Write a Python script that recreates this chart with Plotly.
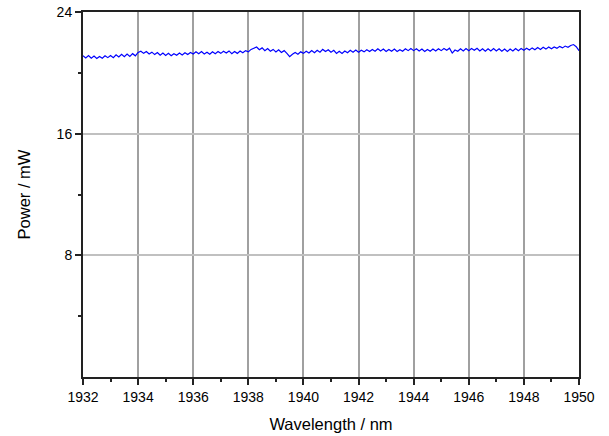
import plotly.graph_objects as go

# Wavelength grid (nm), 0.1 nm sampling
wavelength = [round(1932 + 0.1 * i, 1) for i in range(181)]

# Power (mW)
power = [
    21.12, 20.98, 21.14, 20.96, 21.10, 20.94, 21.08, 20.96, 21.12, 21.00,
    21.14, 21.00, 21.18, 21.04, 21.22, 21.06, 21.24, 21.08, 21.26, 21.12,
    21.34, 21.42, 21.28, 21.40, 21.24, 21.36, 21.20, 21.34, 21.16, 21.30,
    21.14, 21.28, 21.12, 21.26, 21.16, 21.30, 21.18, 21.32, 21.20, 21.34,
    21.24, 21.38, 21.26, 21.40, 21.24, 21.36, 21.22, 21.38, 21.26, 21.40,
    21.28, 21.42, 21.30, 21.44, 21.26, 21.40, 21.28, 21.44, 21.32, 21.46,
    21.38, 21.54, 21.62, 21.70, 21.52, 21.64, 21.46, 21.60, 21.42, 21.54,
    21.38, 21.52, 21.34, 21.46, 21.28, 21.06, 21.22, 21.34, 21.22, 21.38,
    21.28, 21.42, 21.30, 21.46, 21.32, 21.48, 21.36, 21.54, 21.40, 21.52,
    21.36, 21.48, 21.28, 21.42, 21.28, 21.44, 21.32, 21.48, 21.36, 21.50,
    21.36, 21.48, 21.38, 21.52, 21.40, 21.54, 21.42, 21.58, 21.44, 21.56,
    21.40, 21.54, 21.42, 21.56, 21.40, 21.52, 21.42, 21.58, 21.46, 21.60,
    21.46, 21.58, 21.44, 21.56, 21.40, 21.54, 21.42, 21.56, 21.44, 21.58,
    21.46, 21.60, 21.48, 21.62, 21.30, 21.50, 21.42, 21.58, 21.44, 21.60,
    21.46, 21.60, 21.48, 21.62, 21.44, 21.58, 21.42, 21.58, 21.44, 21.60,
    21.44, 21.58, 21.42, 21.56, 21.40, 21.56, 21.44, 21.60, 21.46, 21.60,
    21.48, 21.62, 21.50, 21.64, 21.52, 21.66, 21.54, 21.68, 21.56, 21.70,
    21.58, 21.70, 21.62, 21.74, 21.64, 21.76, 21.68, 21.80, 21.86, 21.72,
    21.46,
]

x_ticks = [1932, 1934, 1936, 1938, 1940, 1942, 1944, 1946, 1948, 1950]
y_ticks = [8, 16, 24]
y_minor = [4, 12, 20]

fig = go.Figure()
fig.add_trace(go.Scatter(
    x=wavelength, y=power, mode="lines",
    line=dict(color="#0000ff", width=1.2),
    showlegend=False,
))

font = "Liberation Sans, Arial, sans-serif"
fig.update_layout(
    width=609, height=436,
    margin=dict(l=83, r=30, t=12, b=59, autoexpand=False),
    paper_bgcolor="white", plot_bgcolor="white",
    font=dict(family=font, size=14, color="black"),
)
fig.update_xaxes(
    range=[1932, 1950], automargin=False,
    tickvals=x_ticks, ticktext=[str(v) for v in x_ticks],
    ticks="outside", ticklen=6, tickwidth=1.5, tickcolor="#222",
    minor=dict(dtick=1, tick0=1932, ticks="outside", ticklen=3, tickcolor="#222", showgrid=False),
    showgrid=True, gridcolor="#a0a0a0", gridwidth=1.5,
    showline=True, linecolor="#222", linewidth=2, mirror=True,
    zeroline=False,
    tickfont=dict(size=14, color="black"),
    title=dict(text="Wavelength / nm", font=dict(size=16.5, color="black"), standoff=15),
)
fig.update_yaxes(
    range=[0, 24], automargin=False,
    tickvals=y_ticks, ticktext=[str(v) for v in y_ticks],
    ticks="outside", ticklen=6, tickwidth=1.5, tickcolor="#222",
    minor=dict(tickvals=y_minor, ticks="outside", ticklen=3, tickcolor="#222", showgrid=False),
    showgrid=True, gridcolor="#c0c0c0", gridwidth=1.5,
    showline=True, linecolor="#222", linewidth=2, mirror=True,
    zeroline=False,
    tickfont=dict(size=14, color="black"),
    title=dict(text="Power / mW", font=dict(size=16.5, color="black"), standoff=22),
)

fig.write_html("out.html", config={"displayModeBar": False},
               post_script="document.body.style.margin='0';")
